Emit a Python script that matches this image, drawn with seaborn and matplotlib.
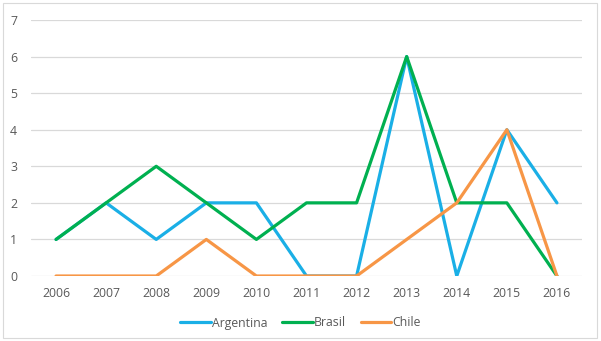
import pandas as pd
import matplotlib.pyplot as plt
import seaborn as sns
from matplotlib.patches import Rectangle

years = [2006, 2007, 2008, 2009, 2010, 2011, 2012, 2013, 2014, 2015, 2016]
argentina = [1, 2, 1, 2, 2, 0, 0, 6, 0, 4, 2]
brasil = [1, 2, 3, 2, 1, 2, 2, 6, 2, 2, 0]
chile = [0, 0, 0, 1, 0, 0, 0, 1, 2, 4, 0]

countries = ['Argentina', 'Brasil', 'Chile']
colors = ['#1AAFE6', '#00B050', '#F79646']

rows = []
for name, vals in zip(countries, [argentina, brasil, chile]):
    for y, v in zip(years, vals):
        rows.append([y, v, name])
df = pd.DataFrame(rows, columns=['year', 'value', 'country'])

sns.set_style('white')
plt.rcParams['font.family'] = ['Open Sans', 'DejaVu Sans']

fig = plt.figure(figsize=(6.01, 3.41), dpi=100)
ax = fig.add_axes([31 / 601, 1 - 276 / 341, 551 / 601, 256 / 341])

sns.lineplot(data=df, x='year', y='value', hue='country', palette=colors,
             linewidth=2.3, ax=ax, legend=False)

ax.set_xlim(2005.5, 2016.5)
ax.set_ylim(0, 7)
ax.set_xticks(years)
ax.set_yticks(range(0, 8))
ax.grid(axis='y', color='#D9D9D9', linewidth=0.9)
ax.set_axisbelow(True)
for s in ax.spines.values():
    s.set_visible(False)
ax.tick_params(axis='both', length=0, labelsize=8.8, colors='#595959', pad=8)
ax.tick_params(axis='y', pad=10)
ax.set_xlabel('')
ax.set_ylabel('')

handles = [plt.Line2D([], [], color=c, linewidth=2.3) for c in colors]
fig.legend(handles, countries, loc='center', bbox_to_anchor=(0.5, 1 - 323 / 341),
           ncol=3, frameon=False, fontsize=8.8, handlelength=2.5, handletextpad=0.1,
           columnspacing=1.2, labelcolor='#595959')

fig.patches.append(Rectangle((3 / 601, 3 / 341), 594 / 601, 335 / 341, transform=fig.transFigure,
                             fill=False, edgecolor='#D9D9D9', linewidth=0.8))

fig.savefig('out.png', dpi=100)
